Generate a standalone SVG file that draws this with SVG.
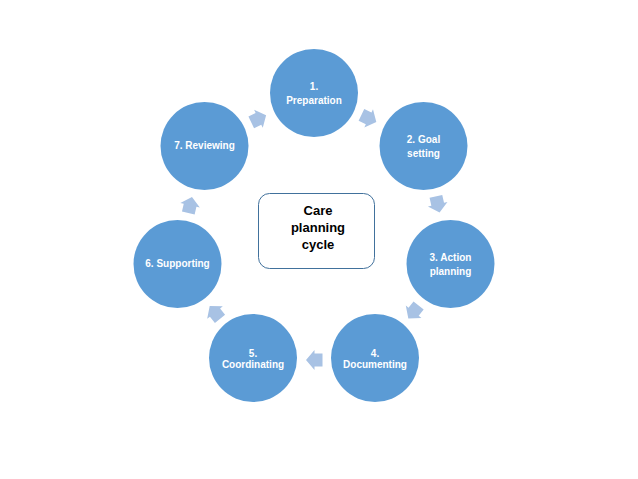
<svg xmlns="http://www.w3.org/2000/svg" width="638" height="479" viewBox="0 0 638 479">
<defs>
<style>
.node circle{fill:#5B9BD5;}
.node text{fill:#FFFFFF;font-family:"Liberation Sans",Arial,sans-serif;font-size:10px;font-weight:bold;text-anchor:middle;}
.arrow{fill:#A8C2E4;}
.center rect{fill:#FFFFFF;stroke:#41719C;stroke-width:1;}
.center text{fill:#000000;font-family:"Liberation Sans",Arial,sans-serif;font-size:13px;font-weight:bold;text-anchor:middle;}
</style>
<path id="arr" d="M-8.5,-6.5 H-0.5 V-10 L8,0 L-0.5,10 V6.5 H-8.5 Z"/>
</defs>
<rect width="638" height="479" fill="#FFFFFF"/>
<g id="connectors">
<use href="#arr" class="arrow" transform="translate(369.1,118.6) rotate(25.71)"/>
<use href="#arr" class="arrow" transform="translate(437.8,204.7) rotate(77.14)"/>
<use href="#arr" class="arrow" transform="translate(413.3,312.2) rotate(128.57)"/>
<use href="#arr" class="arrow" transform="translate(314,360) rotate(180)"/>
<use href="#arr" class="arrow" transform="translate(214.7,312.2) rotate(231.43)"/>
<use href="#arr" class="arrow" transform="translate(190.2,204.7) rotate(282.86)"/>
<use href="#arr" class="arrow" transform="translate(258.9,118.6) rotate(334.29)"/>
</g>
<g id="n1" class="node"><circle cx="314" cy="93" r="44"/><text x="314" y="90">1.</text><text x="314" y="104">Preparation</text></g>
<g id="n2" class="node"><circle cx="423.5" cy="146" r="44"/><text x="423.5" y="143">2. Goal</text><text x="423.5" y="157">setting</text></g>
<g id="n3" class="node"><circle cx="450.5" cy="264" r="44"/><text x="450.5" y="261">3. Action</text><text x="450.5" y="275">planning</text></g>
<g id="n4" class="node"><circle cx="375" cy="358" r="44"/><text x="375" y="357">4.</text><text x="375" y="368">Documenting</text></g>
<g id="n5" class="node"><circle cx="253" cy="358" r="44"/><text x="253" y="357">5.</text><text x="253" y="368">Coordinating</text></g>
<g id="n6" class="node"><circle cx="177.5" cy="264" r="44"/><text x="177.5" y="267">6. Supporting</text></g>
<g id="n7" class="node"><circle cx="204.5" cy="146" r="44"/><text x="204.5" y="149">7. Reviewing</text></g>
<g id="center" class="center"><rect x="258.5" y="193.5" width="116" height="75" rx="11"/><text x="318" y="215">Care</text><text x="318" y="232">planning</text><text x="318" y="249">cycle</text></g>
</svg>
